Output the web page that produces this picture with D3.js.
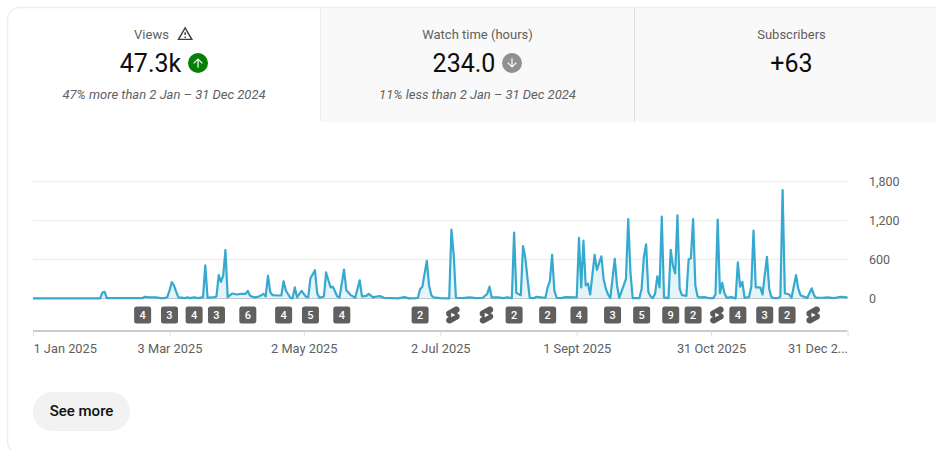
<!DOCTYPE html>
<html>
<head>
<meta charset="utf-8">
<script src="https://cdn.jsdelivr.net/npm/d3@7"></script>
<style>
  html, body { margin: 0; padding: 0; background: #fff; overflow: hidden; }
  svg { display: block; font-family: Roboto, sans-serif; }
</style>
</head>
<body>
<div id="chart"></div>
<script>
// Daily views (day = days since 1 Jan 2025)
const viewDays = [
  0, 30, 31, 32, 33, 49, 50, 52, 55, 57, 59, 60, 61, 62, 63, 64, 65, 68, 69, 70, 72, 74, 76, 77, 78,
  81, 82, 83, 84, 85, 86, 87, 89, 91, 93, 95, 96, 97, 99, 101, 103, 104, 105, 106, 107, 109, 111, 112, 113,
  115, 116, 117, 118, 120, 122, 123, 124, 126, 127, 128, 130, 131, 132, 133, 134, 136, 137, 139, 140, 142, 144,
  146, 147, 149, 150, 152, 153, 155, 157, 161, 163, 166, 168, 171, 172, 173, 174, 176, 177, 178, 179, 182,
  186, 187, 188, 189, 192, 195, 198, 201, 203, 204, 205, 208, 210, 212, 214, 215, 216, 218, 219, 220, 221, 222,
  224, 225, 227, 229, 230, 231, 232, 233, 234, 236, 238, 242, 243, 244, 245, 246, 247, 248, 249, 251, 252, 254,
  255, 256, 257, 258, 260, 261, 262, 264, 265, 266, 267, 268, 271, 272, 273, 274, 275, 276, 277, 278, 279, 280,
  281, 282, 284, 285, 286, 287, 288, 289, 290, 292, 293, 294, 295, 296, 297, 298, 300, 302, 304, 305, 306, 307,
  308, 309, 310, 312, 314, 315, 316, 317, 318, 320, 321, 322, 323, 325, 326, 328, 329, 330, 331, 333, 334, 335,
  336, 338, 339, 341, 342, 343, 346, 348, 349, 350, 353, 355, 358, 361, 364
];
const viewCounts = [
  0, 0, 90, 100, 5, 5, 25, 15, 15, 5, 5, 20, 120, 250, 200, 100, 15, 5, 15, 5, 15, 5, 20, 510, 10,
  20, 30, 360, 255, 350, 745, 20, 75, 60, 70, 70, 115, 40, 15, 30, 70, 30, 350, 100, 50, 45, 45, 265, 120,
  10, 0, 170, 15, 115, 25, 20, 310, 435, 80, 10, 30, 400, 280, 170, 180, 30, 15, 445, 130, 50, 10,
  280, 30, 40, 70, 15, 25, 35, 10, 5, 0, 20, 0, 5, 10, 140, 180, 580, 200, 50, 15, 5,
  0, 1060, 680, 10, 5, 15, 5, 10, 70, 180, 15, 15, 5, 15, 5, 1015, 85, 50, 805, 630, 300, 10,
  5, 25, 15, 10, 170, 270, 670, 120, 10, 5, 20, 15, 15, 935, 170, 890, 200, 230, 60, 670, 440, 650,
  300, 150, 60, 5, 610, 200, 10, 200, 300, 1225, 400, 5, 5, 150, 640, 835, 100, 30, 5, 70, 340, 170,
  1260, 15, 5, 750, 500, 385, 1280, 150, 50, 40, 600, 620, 1225, 200, 30, 15, 20, 5, 5, 60, 1215, 80,
  240, 80, 10, 20, 0, 555, 180, 255, 10, 20, 180, 1045, 170, 170, 60, 640, 150, 20, 5, 5, 30, 1670,
  80, 60, 10, 360, 150, 50, 5, 155, 50, 10, 10, 15, 5, 25, 15
];

const yTicks = [0, 600, 1200, 1800];
const tickDays = [0, 61, 121, 182, 243, 303, 364];
const tickLabels = ["1 Jan 2025", "3 Mar 2025", "2 May 2025", "2 Jul 2025", "1 Sept 2025", "31 Oct 2025", "31 Dec 2..."];

// Upload markers under the line, "S" is a Shorts marker
const markerDays = [49, 61, 72, 82, 96, 112, 124, 138, 173, 188, 203, 215, 230, 244, 259, 272, 285, 295, 306, 315, 327, 337, 349];
const markerLabels = ["4", "3", "4", "3", "6", "4", "5", "4", "2", "S", "S", "2", "2", "4", "3", "5", "9", "2", "S", "4", "3", "2", "S"];

const metricNames = ["Views", "Watch time (hours)", "Subscribers"];
const metricValues = ["47.3k", "234.0", "+63"];
const metricNotes = ["47% more than 2 Jan \u2013 31 Dec 2024", "11% less than 2 Jan \u2013 31 Dec 2024", ""];

const width = 936, height = 450;
const svg = d3.select("#chart").append("svg").attr("width", width).attr("height", height);

const ARROW_UP = "M4 12l1.41 1.41L11 7.83V20h2V7.83l5.58 5.59L20 12l-8-8-8 8z";
const ARROW_DOWN = "M20 12l-1.41-1.41L13 16.17V4h-2v12.17l-5.58-5.59L4 12l8 8 8-8z";
const WARNING = "M12 5.99L19.53 19H4.47L12 5.99M12 2L1 21h22L12 2zm1 14h-2v2h2v-2zm0-6h-2v4h2v-4z";
const SHORTS = "M17.77 10.32l-1.2-.5L18 9.06c1.84-.96 2.53-3.23 1.56-5.06s-3.24-2.53-5.07-1.56L6 6.94c-1.29.68-2.07 2.04-2 3.49.07 1.42.93 2.67 2.22 3.25.03.01 1.2.5 1.2.5L6 14.93c-1.83.97-2.53 3.24-1.56 5.07.97 1.83 3.24 2.53 5.07 1.56l8.5-4.5c1.29-.68 2.06-2.04 1.99-3.49-.07-1.42-.94-2.68-2.23-3.25zM10 14.65v-5.3L15 12l-5 2.65z";

// Card and tabs
svg.append("rect")
    .attr("x", 7.5).attr("y", 7.5).attr("width", 960).attr("height", 446).attr("rx", 12)
    .attr("fill", "#fff").attr("stroke", "#eeeeee").attr("stroke-width", 1.5);

const tabEdges = [8, 321, 635, 936];
svg.append("rect").attr("x", tabEdges[1]).attr("y", 8).attr("width", tabEdges[3] - tabEdges[1]).attr("height", 114).attr("fill", "#f9f9f9");
[tabEdges[1], tabEdges[2]].forEach((x, i) => {
    svg.append("line").attr("x1", x - 0.5).attr("x2", x - 0.5).attr("y1", 8).attr("y2", 122)
        .attr("stroke", i === 0 ? "#eeeeee" : "#dedede");
});

// Title, number and note are not on one centre where an icon sits beside them
const titleCentres = [151.5, 477.5, 791.5];
const valueCentres = [150.5, 464, 791.5];
const noteCentres = [164, 477.5, 791.5];

svg.append("g").selectAll("text").data(metricNames).enter().append("text")
    .attr("x", (d, i) => titleCentres[i]).attr("y", 38.5).attr("text-anchor", "middle")
    .attr("font-size", 13).attr("fill", "#606060").text(d => d);
svg.append("g").selectAll("text").data(metricValues).enter().append("text")
    .attr("x", (d, i) => valueCentres[i]).attr("y", 71.5).attr("text-anchor", "middle")
    .attr("font-size", 25).attr("fill", "#0d0d0d").text(d => d);
svg.append("g").selectAll("text").data(metricNotes).enter().append("text")
    .attr("x", (d, i) => noteCentres[i]).attr("y", 98.5).attr("text-anchor", "middle")
    .attr("font-size", 13).attr("font-style", "italic").attr("fill", "#606060").text(d => d);

// Icons next to the numbers
svg.append("path").attr("d", WARNING).attr("fill", "#404040")
    .attr("transform", "translate(176.5,25) scale(0.72)");

function badge(cx, cy, color, arrow) {
    svg.append("circle").attr("cx", cx).attr("cy", cy).attr("r", 10).attr("fill", color);
    svg.append("path").attr("d", arrow).attr("fill", "#fff")
        .attr("transform", `translate(${cx - 7.2},${cy - 7.2}) scale(0.6)`);
}
badge(198, 63, "#067f06", ARROW_UP);
badge(512, 63, "#909090", ARROW_DOWN);

// Scales
const x = d3.scaleLinear().domain([0, 364]).range([33, 847.5]);
const y = d3.scaleLinear().domain([0, 1800]).range([298.4, 181.7]);

// Grid and y labels
svg.append("g").selectAll("line").data(yTicks.slice(1)).enter().append("line")
    .attr("x1", x(0)).attr("x2", x(364))
    .attr("y1", d => y(d)).attr("y2", d => y(d))
    .attr("stroke", "#eeeeee").attr("stroke-width", 1.3);

svg.append("line").attr("x1", x(0)).attr("x2", x(364)).attr("y1", y(0)).attr("y2", y(0))
    .attr("stroke", "#8c8c8c").attr("stroke-width", 1);

svg.append("g").selectAll("text").data(yTicks).enter().append("text")
    .attr("x", 869).attr("y", d => y(d) + 4.3)
    .attr("font-size", 12.5).attr("fill", "#606060")
    .text(d => d3.format(",")(d));

// Area and line
const points = viewDays.map((d, i) => [d, viewCounts[i]]);

const area = d3.area().x(d => x(d[0])).y0(y(0)).y1(d => y(d[1]));
const line = d3.line().x(d => x(d[0])).y(d => y(d[1]));

svg.append("path").datum(points).attr("d", area).attr("fill", "#e5f4f9");
svg.append("path").datum(points).attr("d", line)
    .attr("fill", "none").attr("stroke", "#35a9d0").attr("stroke-width", 2.2).attr("stroke-linejoin", "round");

// Upload markers
const markers = svg.selectAll("g.marker").data(markerDays).enter().append("g").attr("class", "marker")
    .attr("transform", d => `translate(${x(d)},315)`);

markers.filter((d, i) => markerLabels[i] !== "S").append("rect")
    .attr("x", -8.5).attr("y", -8.5).attr("width", 17).attr("height", 17).attr("rx", 2.5)
    .attr("fill", "#606060");

markers.filter((d, i) => markerLabels[i] !== "S").append("text")
    .attr("text-anchor", "middle").attr("y", 4).attr("font-size", 11).attr("font-weight", 500).attr("fill", "#fff")
    .text(d => markerLabels[markerDays.indexOf(d)]);

markers.filter((d, i) => markerLabels[i] === "S").append("path")
    .attr("d", SHORTS).attr("fill", "#5a5a5a")
    .attr("transform", "translate(-0.8,0) scale(0.85) translate(-12,-12)");

// X axis
const xAxis = d3.axisBottom(x)
    .tickValues(tickDays)
    .tickSize(5)
    .tickPadding(8)
    .tickFormat((d, i) => tickLabels[i]);

const gx = svg.append("g").attr("transform", "translate(0,331)").call(xAxis);
gx.select(".domain").attr("d", `M${x(0)},0H${x(364)}`).attr("stroke", "#cccccc").attr("stroke-width", 2);
gx.selectAll(".tick line").attr("stroke", "#e0e0e0");
gx.selectAll(".tick text")
    .attr("font-family", "Roboto, sans-serif").attr("font-size", 12.8).attr("fill", "#606060")
    .attr("text-anchor", (d, i) => i === 0 ? "start" : i === tickDays.length - 1 ? "end" : "middle");

// See more button
svg.append("rect").attr("x", 33).attr("y", 392).attr("width", 97).attr("height", 39).attr("rx", 19.5).attr("fill", "#f2f2f2");
svg.append("text").attr("x", 81.5).attr("y", 416).attr("text-anchor", "middle")
    .attr("font-size", 15).attr("font-weight", 500).attr("fill", "#0f0f0f").text("See more");
</script>
</body>
</html>
